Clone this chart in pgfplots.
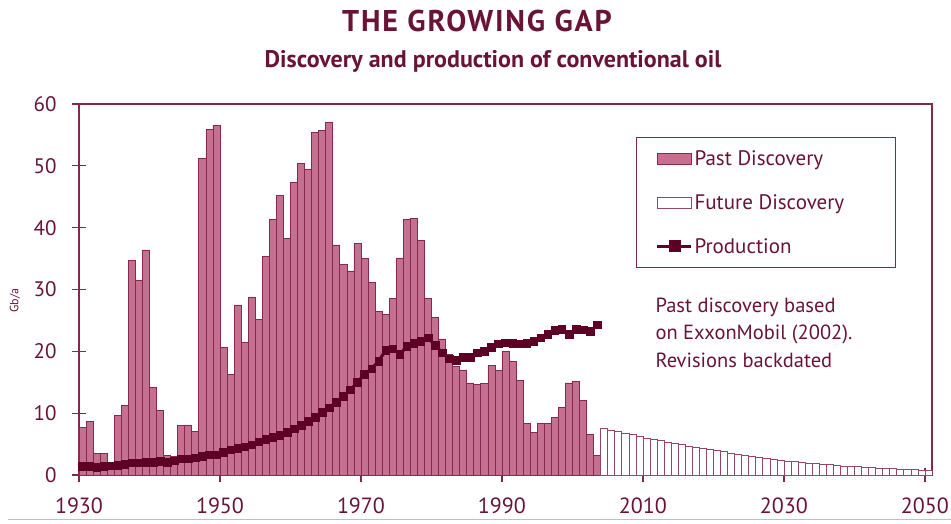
\documentclass[border=0pt]{standalone}
\usepackage{pgfplots}
\pgfplotsset{compat=1.18}
\usepackage{fontspec}
\setmainfont{PT Sans}
\newfontfamily\titlefont[LetterSpace=6]{PT Sans}
\definecolor{barfill}{RGB}{196,112,142}
\definecolor{baredge}{RGB}{135,40,80}
\definecolor{futedge}{RGB}{150,70,105}
\definecolor{prod}{RGB}{94,0,36}
\definecolor{txt}{RGB}{105,20,55}
\definecolor{axcol}{RGB}{130,40,75}
\begin{document}
\begin{tikzpicture}
\useasboundingbox (0pt,0pt) rectangle (951pt,523pt);
\draw[gray!50, line width=0.8pt] (8pt,4pt) -- (951pt,4pt);
\node[txt, font=\titlefont\fontsize{30}{30}\selectfont\bfseries] at (477pt,502pt) {THE GROWING GAP};
\node[txt, font=\fontsize{24}{24}\selectfont\bfseries] at (493pt,462pt) {Discovery and production of conventional oil};
\node[anchor=north west, align=left, txt, font=\fontsize{20.5}{27.5}\selectfont] at (652pt,229pt) {Past discovery based\\on ExxonMobil (2002).\\Revisions backdated};
\begin{axis}[
  at={(79pt,48pt)}, anchor=south west, scale only axis,
  width=853pt, height=371pt,
  xmin=1930, xmax=2051, ymin=0, ymax=60,
  axis line style={axcol, line width=1.2pt},
  xtick={1930,1950,...,2050}, ytick={0,10,...,60},
  tick align=center, major tick length=14pt,
  tick style={axcol, line width=1.2pt},
  xtick pos=bottom, ytick pos=left,
  ticklabel style={txt},
  yticklabel style={font=\fontsize{21}{21}\selectfont, xshift=-12pt},
  xticklabel style={font=\fontsize{22}{22}\selectfont, yshift=-12pt},
  /pgf/number format/assume math mode=true,
  /pgf/number format/1000 sep={},
  ylabel={Gb/a},
  ylabel style={font=\fontsize{12}{12}\selectfont, txt, at={(axis description cs:-0.075,0.47)}, anchor=center},
  legend cell align=left,
  legend style={at={(axis description cs:0.653,0.911)}, anchor=north west,
    draw=axcol, line width=1pt, font=\fontsize{21}{21}\selectfont, text=txt,
    inner xsep=19pt, inner ysep=11pt, row sep=23.5pt, nodes={inner sep=2pt},
    /tikz/every even column/.style={column sep=4pt}},
]
\addplot[ybar, bar width=1, bar shift=0pt, fill=barfill, draw=baredge, line width=0.7pt,
  legend image code/.code={\draw[fill=barfill, draw=baredge, line width=0.8pt] (0pt,-5.5pt) rectangle (34pt,5.5pt);}]
coordinates {
(1930.5,7.7) (1931.5,8.7) (1932.5,3.5) (1933.5,3.5) (1934.5,1.5)
(1935.5,9.6) (1936.5,11.3) (1937.5,34.7) (1938.5,31.4) (1939.5,36.4)
(1940.5,14.1) (1941.5,10.4) (1942.5,3.2) (1943.5,3.0) (1944.5,8.0)
(1945.5,8.1) (1946.5,7.0) (1947.5,51.2) (1948.5,55.9) (1949.5,56.6)
(1950.5,20.7) (1951.5,16.3) (1952.5,27.5) (1953.5,21.4) (1954.5,28.8)
(1955.5,25.1) (1956.5,35.4) (1957.5,41.4) (1958.5,45.2) (1959.5,38.3)
(1960.5,47.3) (1961.5,50.4) (1962.5,49.5) (1963.5,55.4) (1964.5,55.7)
(1965.5,57.0) (1966.5,37.2) (1967.5,34.0) (1968.5,33.0) (1969.5,37.5)
(1970.5,35.0) (1971.5,31.1) (1972.5,26.5) (1973.5,26.0) (1974.5,28.6)
(1975.5,35.1) (1976.5,41.4) (1977.5,41.5) (1978.5,37.9) (1979.5,28.6)
(1980.5,25.5) (1981.5,22.0) (1982.5,19.5) (1983.5,17.5) (1984.5,17.0)
(1985.5,14.9) (1986.5,14.6) (1987.5,14.8) (1988.5,17.7) (1989.5,16.9)
(1990.5,20.0) (1991.5,18.3) (1992.5,15.3) (1993.5,8.4) (1994.5,6.9)
(1995.5,8.4) (1996.5,8.4) (1997.5,9.3) (1998.5,10.9) (1999.5,14.9)
(2000.5,15.1) (2001.5,12.0) (2002.5,6.6) (2003.5,3.1)
};
\addlegendentry{\makebox[180pt][l]{Past Discovery}}
\addplot[ybar, bar width=1, bar shift=0pt, fill=white, draw=futedge, line width=0.7pt,
  legend image code/.code={\draw[fill=white, draw=futedge, line width=0.8pt] (0pt,-5.5pt) rectangle (34pt,5.5pt);}]
coordinates {
(2004.5,7.5) (2005.5,7.25) (2006.5,7.0) (2007.5,6.75) (2008.5,6.5) (2009.5,6.25)
(2010.5,6.0) (2011.5,5.76) (2012.5,5.53) (2013.5,5.31) (2014.5,5.10) (2015.5,4.90)
(2016.5,4.70) (2017.5,4.51) (2018.5,4.33) (2019.5,4.16) (2020.5,4.0)
(2021.5,3.78) (2022.5,3.58) (2023.5,3.38) (2024.5,3.20) (2025.5,3.02)
(2026.5,2.86) (2027.5,2.70) (2028.5,2.55) (2029.5,2.41) (2030.5,2.28)
(2031.5,2.16) (2032.5,2.04) (2033.5,1.93) (2034.5,1.83) (2035.5,1.74)
(2036.5,1.65) (2037.5,1.56) (2038.5,1.48) (2039.5,1.41) (2040.5,1.34)
(2041.5,1.27) (2042.5,1.21) (2043.5,1.15) (2044.5,1.09) (2045.5,1.03)
(2046.5,0.98) (2047.5,0.93) (2048.5,0.88) (2049.5,0.83) (2050.5,0.78)
};
\addlegendentry{\makebox[180pt][l]{Future Discovery}}
\addplot[prod, line width=3pt, mark=square*, mark size=3.8pt, mark options={prod, line width=0.5pt},
  legend image code/.code={\draw[prod, line width=3pt] (0pt,0pt) -- (34pt,0pt); \fill[prod] (13pt,-4.5pt) rectangle (22pt,4.5pt);}]
coordinates {
(1930.5,1.4) (1931.5,1.4) (1932.5,1.3) (1933.5,1.4) (1934.5,1.5)
(1935.5,1.6) (1936.5,1.7) (1937.5,2.0) (1938.5,2.0) (1939.5,2.1)
(1940.5,2.1) (1941.5,2.2) (1942.5,2.1) (1943.5,2.3) (1944.5,2.6)
(1945.5,2.6) (1946.5,2.8) (1947.5,3.0) (1948.5,3.3) (1949.5,3.3)
(1950.5,3.7) (1951.5,4.1) (1952.5,4.3) (1953.5,4.6) (1954.5,4.9)
(1955.5,5.4) (1956.5,5.8) (1957.5,6.1) (1958.5,6.4) (1959.5,6.9)
(1960.5,7.5) (1961.5,8.0) (1962.5,8.7) (1963.5,9.3) (1964.5,10.1)
(1965.5,10.9) (1966.5,11.8) (1967.5,12.7) (1968.5,13.8) (1969.5,15.0)
(1970.5,16.3) (1971.5,17.2) (1972.5,18.4) (1973.5,20.2) (1974.5,20.4)
(1975.5,19.5) (1976.5,20.8) (1977.5,21.3) (1978.5,21.6) (1979.5,22.2)
(1980.5,21.0) (1981.5,19.8) (1982.5,18.8) (1983.5,18.6) (1984.5,19.0)
(1985.5,19.0) (1986.5,19.8) (1987.5,20.0) (1988.5,20.7) (1989.5,21.2)
(1990.5,21.4) (1991.5,21.3) (1992.5,21.2) (1993.5,21.3) (1994.5,21.6)
(1995.5,22.2) (1996.5,22.8) (1997.5,23.4) (1998.5,23.6) (1999.5,22.8)
(2000.5,23.6) (2001.5,23.5) (2002.5,23.2) (2003.5,24.3)
};
\addlegendentry{\makebox[180pt][l]{Production}}
\end{axis}
\end{tikzpicture}
\end{document}
